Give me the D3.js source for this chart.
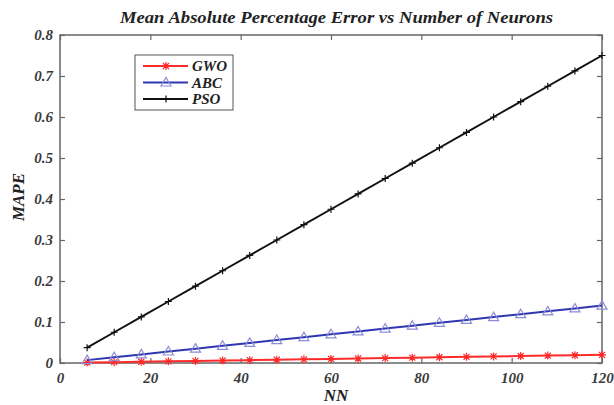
<!DOCTYPE html>
<html><head><meta charset="utf-8">
<script src="https://cdn.jsdelivr.net/npm/d3@7"></script>
<style>
body{margin:0;background:#fff;}
svg text{font-family:"Liberation Serif","Times New Roman",serif;font-weight:bold;font-style:italic;}
</style></head>
<body><svg id="c" width="614" height="405"></svg>
<script>
const nn = [6,12,18,24,30,36,42,48,54,60,66,72,78,84,90,96,102,108,114,120];
const gwo = [0.001,0.002,0.003,0.004,0.005,0.006,0.007,0.008,0.009,0.010,0.011,0.012,0.013,0.014,0.015,0.016,0.017,0.018,0.019,0.020];
const abc = [0.007,0.014,0.021,0.028,0.035,0.042,0.049,0.056,0.063,0.070,0.077,0.084,0.091,0.098,0.105,0.112,0.119,0.126,0.133,0.140];
const pso = [0.0375,0.075,0.1125,0.15,0.1875,0.225,0.2625,0.30,0.3375,0.375,0.4125,0.45,0.4875,0.525,0.5625,0.60,0.6375,0.675,0.7125,0.75];
const xTicks = [0,20,40,60,80,100,120];
const yTicks = [0,0.1,0.2,0.3,0.4,0.5,0.6,0.7,0.8];
const seriesNames = ["GWO","ABC","PSO"];

const svg = d3.select("#c");
const L=60,R=602,T=35,B=363;
const x = d3.scaleLinear().domain([0,120]).range([L,R]);
const y = d3.scaleLinear().domain([0,0.8]).range([B,T]);

const axisColor="#666";
svg.append("rect").attr("x",L).attr("y",T).attr("width",R-L).attr("height",B-T)
  .attr("fill","none").attr("stroke",axisColor).attr("stroke-width",1.5);

function fmt(d){return d===0?"0":d3.format(".1f")(d);}
const gx = svg.append("g").attr("transform",`translate(0,${B})`)
  .call(d3.axisBottom(x).tickValues(xTicks).tickSize(-5).tickPadding(9));
const gxt = svg.append("g").attr("transform",`translate(0,${T})`)
  .call(d3.axisTop(x).tickValues(xTicks).tickSize(-5).tickFormat(""));
const gy = svg.append("g").attr("transform",`translate(${L},0)`)
  .call(d3.axisLeft(y).tickValues(yTicks).tickSize(-5).tickPadding(7).tickFormat(fmt));
const gyr = svg.append("g").attr("transform",`translate(${R},0)`)
  .call(d3.axisRight(y).tickValues(yTicks).tickSize(-5).tickFormat(""));
[gx,gxt,gy,gyr].forEach(g=>{
  g.select(".domain").remove();
  g.selectAll("line").attr("stroke",axisColor).attr("stroke-width",1.2);
  g.selectAll("text").attr("fill","#3a3a3a").style("font-size","15px")
   .style("font-family",'"Liberation Serif",serif').style("font-weight","bold").style("font-style","italic");
});

const line = d3.line().x((d,i)=>x(nn[i])).y(d=>y(d));
const cfg = [
  {data:gwo,color:"#ff2a2a",mcolor:"#ff2a2a",marker:"star"},
  {data:abc,color:"#2f37b0",mcolor:"#8c8cd8",marker:"tri"},
  {data:pso,color:"#111",mcolor:"#111",marker:"plus"}
];
function drawMarker(g,cx,cy,type,col){
  if(type==="plus"){
    g.append("path").attr("d",`M${cx-3.5},${cy}H${cx+3.5}M${cx},${cy-3.5}V${cy+3.5}`).attr("stroke",col).attr("stroke-width",1.2);
  } else if(type==="star"){
    g.append("path").attr("d",`M${cx-4},${cy}H${cx+4}M${cx},${cy-4}V${cy+4}M${cx-3},${cy-3}L${cx+3},${cy+3}M${cx-3},${cy+3}L${cx+3},${cy-3}`).attr("stroke",col).attr("stroke-width",1.2);
  } else {
    g.append("path").attr("d",`M${cx},${cy-5}L${cx+5},${cy+3.5}L${cx-5},${cy+3.5}Z`).attr("fill","none").attr("stroke",col).attr("stroke-width",1.2);
  }
}
cfg.forEach(c=>{
  svg.append("path").datum(c.data).attr("d",line).attr("fill","none").attr("stroke",c.color).attr("stroke-width",2);
  const g = svg.append("g");
  c.data.forEach((v,i)=>drawMarker(g,x(nn[i]),y(v),c.marker,c.mcolor));
});

// legend
svg.append("rect").attr("x",135).attr("y",55).attr("width",98).attr("height",55)
  .attr("fill","#fff").attr("stroke","#555").attr("stroke-width",1);
seriesNames.forEach((n,i)=>{
  const ly = 66+i*16.5;
  svg.append("line").attr("x1",143).attr("x2",188).attr("y1",ly).attr("y2",ly).attr("stroke",cfg[i].color).attr("stroke-width",2);
  drawMarker(svg,166,ly,cfg[i].marker,cfg[i].mcolor);
  svg.append("text").attr("x",192).attr("y",ly+5).attr("fill","#222").style("font-size","15px").text(n);
});

svg.append("text").attr("x",120).attr("y",23).attr("fill","#222")
  .attr("textLength",433).attr("lengthAdjust","spacingAndGlyphs")
  .style("font-size","17px").text("Mean Absolute Percentage Error vs Number of Neurons");
svg.append("text").attr("x",336).attr("y",401).attr("text-anchor","middle").attr("fill","#222")
  .style("font-size","17px").text("NN");
svg.append("text").attr("transform","translate(24,197) rotate(-90)").attr("text-anchor","middle").attr("fill","#222")
  .style("font-size","17px").text("MAPE");
</script></body></html>
